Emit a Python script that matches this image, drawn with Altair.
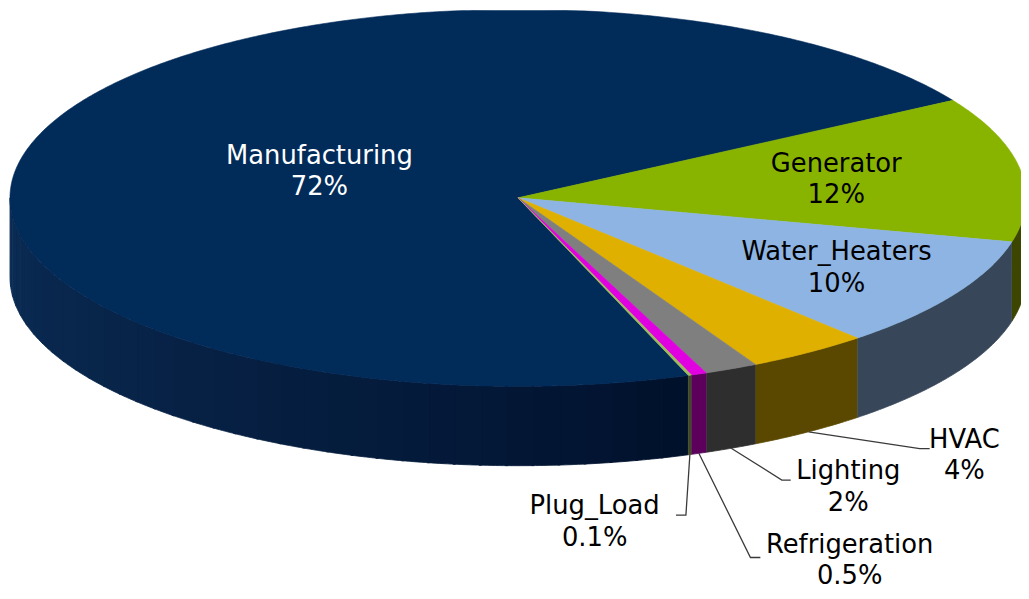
import math
import altair as alt
import pandas as pd

# ---------------- data ----------------
categories = ["Manufacturing", "Generator", "Water_Heaters", "HVAC",
              "Lighting", "Refrigeration", "Plug_Load"]
shares = [71.8, 12.4, 9.6, 3.9, 1.7, 0.5, 0.1]

# ---------------- styles ----------------
top_colors = ["#012B59", "#88B400", "#8DB4E2", "#E0B000", "#7F7F7F", "#E000E0", "#9BBB59"]
side_colors = ["#0B2C55", "#3C4600", "#374759", "#5A4800", "#2E2E2E", "#5C005C", "#3D4A24"]
side_dark = "#00102A"          # front end of the Manufacturing side gradient
text_colors = ["#FFFFFF", "#000000", "#000000", "#000000", "#000000", "#000000", "#000000"]
FONT = "DejaVu Sans"
FONT_SIZE = 26
LINE_GAP = 32

# ---------------- geometry (screen px) ----------------
W, H = 1021, 583
CX, CY, RX, RY, DEPTH = 522, 197, 512, 190, 80
START = 70.4   # parametric start angle of first slice, clockwise on screen

inside_radius = {"Manufacturing": 0.415, "Generator": 0.634, "Water_Heaters": 0.73}
# outside labels: offsets from the anchor on the lower rim (elbow, end of leader, label block centre)
outside = {
    "HVAC": dict(elbow=(112, 17), end=(122, 17), text=(157, 24)),
    "Lighting": dict(elbow=(51, 32), end=(60, 32), text=(118, 39)),
    "Refrigeration": dict(elbow=(52, 105), end=(62, 105), text=(152, 108)),
    "Plug_Load": dict(elbow=(-4, 61), end=(-14, 61), text=(-96, 68)),
}


def pt(t_deg, down=0.0):
    t = math.radians(t_deg)
    return CX + RX * math.cos(t), CY + RY * math.sin(t) + down


def angles(t0, t1, step=0.5):
    n = max(2, int(math.ceil((t1 - t0) / step)) + 1)
    return [t0 + (t1 - t0) * k / (n - 1) for k in range(n)]


def mix(c1, c2, f):
    a = [int(c1[i:i + 2], 16) for i in (1, 3, 5)]
    b = [int(c2[i:i + 2], 16) for i in (1, 3, 5)]
    return "#%02X%02X%02X" % tuple(round(a[i] + (b[i] - a[i]) * f) for i in range(3))


total = sum(shares)
bounds = []
t = START
for s in shares:
    span = 360.0 * s / total
    bounds.append((t, t + span))
    t += span

top_rows, side_rows, line_rows, text_rows = [], [], [], []


def add_poly(rows, pid, pts, color):
    for k, (x, y) in enumerate(pts):
        rows.append(dict(pid=pid, k=k, x=x, y=y, color=color))


for i, (cat, (t0, t1)) in enumerate(zip(categories, bounds)):
    # top face
    pts = [(CX, CY)] + [pt(a) for a in angles(t0, t1)] + [(CX, CY)]
    add_poly(top_rows, f"top{i}", pts, top_colors[i])
    # visible side (front half: 0..180 deg, also 360..540)
    for base in (0, 360):
        lo, hi = max(t0, base), min(t1, base + 180)
        if hi <= lo:
            continue
        if cat == "Manufacturing":
            # shaded strips: darker towards the front, lighter to the left
            edges = angles(lo, hi, step=3)
            for j in range(len(edges) - 1):
                a0, a1 = edges[j], edges[j + 1] + 0.3
                f = ((a0 + a1) / 2 - lo) / (hi - lo)
                col = mix(side_dark, side_colors[i], f ** 0.8)
                ang = angles(a0, min(a1, hi), step=0.5)
                p = [pt(a) for a in ang] + [pt(a, DEPTH) for a in reversed(ang)]
                add_poly(side_rows, f"side{i}_{base}_{j}", p, col)
        else:
            ang = angles(lo, hi)
            p = [pt(a) for a in ang] + [pt(a, DEPTH) for a in reversed(ang)]
            add_poly(side_rows, f"side{i}_{base}", p, side_colors[i])

    pct = shares[i]
    label = f"{round(pct)}%" if pct >= 1 else f"{pct:.1f}%"
    mid = (t0 + t1) / 2
    if cat in inside_radius:
        r = inside_radius[cat]
        tx = CX + RX * r * math.cos(math.radians(mid))
        ty = CY + RY * r * math.sin(math.radians(mid))
    else:
        ax, ay = pt(mid, DEPTH)
        lay = outside[cat]
        seq = [(ax, ay), (ax + lay["elbow"][0], ay + lay["elbow"][1]),
               (ax + lay["end"][0], ay + lay["end"][1])]
        for k, (x, y) in enumerate(seq):
            line_rows.append(dict(lid=cat, k=k, x=x, y=y))
        tx, ty = ax + lay["text"][0], ay + lay["text"][1]
    text_rows.append(dict(x=tx, y=ty - LINE_GAP / 2, text=cat, color=text_colors[i]))
    text_rows.append(dict(x=tx, y=ty + LINE_GAP / 2, text=label, color=text_colors[i]))

xs = alt.Scale(domain=[8, 8 + W], nice=False, zero=False)
ys = alt.Scale(domain=[8, 8 + H], nice=False, zero=False, reverse=True)
X = lambda: alt.X("x:Q", scale=xs, axis=None)
Y = lambda: alt.Y("y:Q", scale=ys, axis=None)

sides = alt.Chart(pd.DataFrame(side_rows)).mark_line(clip=True, strokeWidth=0.8).encode(
    x=X(), y=Y(), detail="pid:N", order="k:Q",
    fill=alt.Fill("color:N", scale=None), stroke=alt.Stroke("color:N", scale=None))

tops = alt.Chart(pd.DataFrame(top_rows)).mark_line(clip=True, strokeWidth=0.6).encode(
    x=X(), y=Y(), detail="pid:N", order="k:Q",
    fill=alt.Fill("color:N", scale=None), stroke=alt.Stroke("color:N", scale=None))

leaders = alt.Chart(pd.DataFrame(line_rows)).mark_line(color="#3A3A3A", strokeWidth=1.3).encode(
    x=X(), y=Y(), detail="lid:N", order="k:Q")

texts = alt.Chart(pd.DataFrame(text_rows)).mark_text(
    font=FONT, fontSize=FONT_SIZE, align="center", baseline="middle").encode(
    x=X(), y=Y(), text="text:N", color=alt.Color("color:N", scale=None))

chart = alt.layer(sides, tops, leaders, texts).properties(
    width=W, height=H, padding=0, autosize=alt.AutoSizeParams(type="none"),
    background="white"
).configure_view(stroke=None)

chart.save("out.html", embed_options={"renderer": "svg", "actions": False})
